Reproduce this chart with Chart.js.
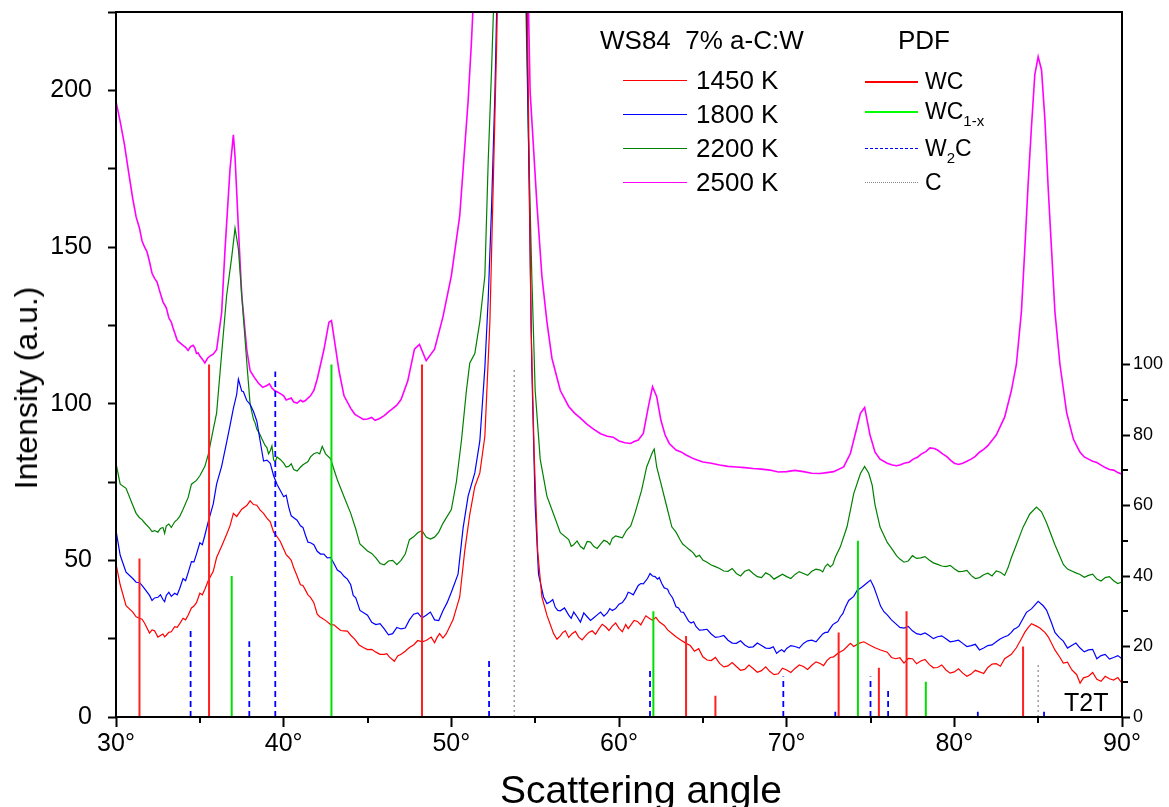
<!DOCTYPE html>
<html><head><meta charset="utf-8">
<script src="https://cdn.jsdelivr.net/npm/chart.js@4/dist/chart.umd.min.js"></script>
<style>
html,body{margin:0;padding:0;background:#fff;}
#wrap{position:relative;width:1169px;height:807px;font-family:"Liberation Sans",Arial,sans-serif;color:#000;overflow:hidden;}
#c{position:absolute;left:0;top:0;}
.t{position:absolute;white-space:pre;line-height:1;}
.ln{position:absolute;height:0;}
sub{font-size:15px;vertical-align:-7px;line-height:0;}
</style></head><body>
<div id="wrap">
<canvas id="c" width="1169" height="807"></canvas>
<div class="t" style="left:600px;top:27px;font-size:26px;">WS84  7% a-C:W</div>
<div class="t" style="left:898px;top:27px;font-size:26px;">PDF</div>

<div class="ln" style="left:623px;top:80px;width:64px;border-top:1.5px solid #ff0000;"></div>
<div class="t" style="left:696px;top:67px;font-size:26px;">1450 K</div>
<div class="ln" style="left:623px;top:114px;width:64px;border-top:1.5px solid #0000ff;"></div>
<div class="t" style="left:696px;top:101px;font-size:26px;">1800 K</div>
<div class="ln" style="left:623px;top:148px;width:64px;border-top:1.5px solid #008000;"></div>
<div class="t" style="left:696px;top:135px;font-size:26px;">2200 K</div>
<div class="ln" style="left:623px;top:182px;width:64px;border-top:1.5px solid #ff00ff;"></div>
<div class="t" style="left:696px;top:169px;font-size:26px;">2500 K</div>

<div class="ln" style="left:865px;top:81px;width:53px;border-top:2px solid #ff0000;"></div>
<div class="t" style="left:925px;top:70px;font-size:23px;">WC</div>
<div class="ln" style="left:865px;top:111px;width:53px;border-top:2px solid #00ff00;"></div>
<div class="t" style="left:925px;top:100px;font-size:23px;">WC<sub>1-x</sub></div>
<div class="ln" style="left:865px;top:148px;width:53px;border-top:1.5px dashed #0000ff;"></div>
<div class="t" style="left:925px;top:137px;font-size:23px;">W<sub>2</sub>C</div>
<div class="ln" style="left:865px;top:182px;width:53px;border-top:1.5px dotted #888;"></div>
<div class="t" style="left:925px;top:171px;font-size:23px;">C</div>

<div class="t" style="left:1064px;top:690px;font-size:25px;">T2T</div>
<div class="t" style="left:500px;top:770px;font-size:39px;">Scattering angle</div>
<div class="t" style="left:26px;top:388px;font-size:32px;transform:translate(-50%,-50%) rotate(-90deg);">Intensity (a.u.)</div>
</div>
<script>
// ---- measured curves: [scattering angle (deg), intensity (a.u.)] ----
const curve1450 = [
[30.0,48.9],[30.25,42.2],[30.6,35.5],[31.0,33.5],[31.4,31.5],[31.7,30.0],[32.0,26.8],[32.3,27.5],[32.5,25.5],[32.8,26.5],
[33.0,26.1],[33.3,27.2],[33.5,28.8],[33.8,29.8],[34.0,31.5],[34.3,32.5],[34.5,34.8],[34.8,36.5],[35.0,39.5],[35.3,40.8],
[35.5,43.5],[35.8,46.5],[36.0,50.9],[36.3,54.5],[36.6,58.3],[36.8,61],[37.0,65],[37.2,64],[37.5,66.3],[37.8,67.5],
[38.0,69],[38.2,67.8],[38.4,67.6],[38.6,66],[38.8,65],[39.0,63.5],[39.2,62.3],[39.4,59],[39.6,57.6],[40.0,53.6],
[40.3,51],[40.6,47.6],[41.0,42.2],[41.3,40.5],[41.6,38.2],[42.0,32.8],[42.3,31.5],[42.8,29.5],[43.2,28.5],[43.6,27.5],
[44.0,26.1],[44.5,23],[45.0,21.5],[45.5,20.7],[46.0,20.0],[46.3,19.2],[46.6,17.8],[46.8,19.5],[47.0,20.0],[47.5,22.2],
[48.0,24.4],[48.5,24.4],[48.8,25.5],[49.0,23.7],[49.3,26.6],[49.7,26.6],[50.1,31],[50.5,38.3],[50.8,53],[51.1,64.7],
[51.4,73.5],[51.7,77.9],[52.0,89.6],[52.3,126.2],[52.5,170],[52.7,214],[52.9,270],[53.3,600],[53.7,800],[54.1,600],
[54.5,240],[54.75,126],[54.95,82.3],[55.15,53],[55.4,38.3],[55.7,32.5],[56.1,26.6],[56.5,25.9],[56.8,27.5],[57.2,26.6],
[57.6,25.5],[58.0,25.9],[58.4,27.5],[58.8,28.1],[59.2,28.8],[59.6,29],[60.0,28.3],[60.4,29.5],[60.7,29.3],[61.1,30.5],
[61.45,30.9],[61.8,31.5],[62.0,30.9],[62.2,31.8],[62.4,30.4],[62.7,29.2],[62.9,27.8],[63.2,26.5],[63.4,25.6],[63.7,24.5],
[64.0,23.5],[64.5,21],[65.0,19.2],[65.5,18],[66.0,17.1],[66.5,16.3],[67.0,16.1],[67.5,15.2],[68.0,15.5],[68.5,14.8],
[69.0,14.5],[69.5,13.8],[70.0,15],[70.5,15.5],[71.0,16.1],[71.5,16.5],[72.0,17.1],[72.4,18],[72.8,19.2],[73.1,20.5],
[73.4,21.4],[73.8,23.5],[74.0,22.5],[74.3,23.5],[74.6,24],[75.0,22.8],[75.3,22],[75.6,21.4],[76.0,20.7],[76.5,18.6],
[77.0,17.2],[77.5,18.6],[78.0,17.9],[78.5,16.8],[79.0,15.8],[79.5,15],[80.0,14.4],[80.5,14],[81.0,13.7],[81.5,14.4],
[82.0,15.8],[82.5,17],[83.0,18.6],[83.4,20],[83.7,22.1],[84.0,25],[84.2,27],[84.4,28.5],[84.6,29.8],[84.9,29],
[85.1,28.4],[85.4,27],[85.6,25.6],[86.0,21.4],[86.3,19],[86.5,17.2],[87.0,15.1],[87.3,13.5],[87.5,10.8],[87.7,12.5],
[88.0,13],[88.5,12],[89.0,13],[89.5,11.8],[90.0,10.8]
];
// finer readings of the 1450 K trace (noise wiggles between the points above)
const curve1450fine = [
[31.2,32.0],[31.55,31.2],[32.15,27.8],[32.65,26.0],[32.9,25.6],[33.15,27.0],[33.65,28.6],[34.15,31.0],[34.65,35.4],[35.15,39.0],
[39.8,56.0],[40.15,51.8],[40.45,50.0],[40.8,45.0],[41.15,42.0],[41.45,39.0],[41.8,36.5],[42.15,32.0],[42.55,30.6],[43.0,29.4],
[43.4,27.6],[43.8,27.4],[44.25,24.8],[44.75,22.2],[45.25,21.6],[45.75,20.0],[46.15,20.2],[47.25,21.0],[47.75,23.0],[48.25,24.0],
[49.15,25.4],[49.5,25.2],[56.3,24.8],[56.65,27.0],[57.0,25.4],[57.4,27.3],[57.8,24.6],[58.2,27.0],[58.6,26.4],[59.0,29.6],
[59.4,27.6],[59.8,30.0],[60.2,27.2],[60.55,28.2],[60.9,30.8],[61.3,29.4],[61.6,32.3],[64.25,22.8],[64.75,21.8],[65.25,18.2],
[65.75,19.0],[66.25,16.0],[66.75,17.4],[67.25,14.9],[67.75,16.6],[68.25,14.3],[68.75,16.0],[69.25,13.5],[69.75,15.6],[70.25,14.2],
[70.75,16.6],[71.25,15.2],[71.75,17.6],[72.2,16.4],[72.6,19.0],[76.25,19.0],[76.75,18.9],[77.25,18.7],[77.75,17.0],[78.25,18.4],
[78.75,15.7],[79.25,16.6],[79.75,14.0],[80.25,15.4],[80.75,13.0],[81.25,14.9],[81.75,13.9],[82.25,16.9],[82.75,16.2],[86.75,17.5],
[88.25,14.2],[88.75,11.4],[89.25,12.2],[89.75,12.6]
];
const curve1800 = [
[30.0,59.6],[30.25,51.6],[30.6,46.2],[31.0,44.2],[31.4,42.9],[31.7,41],[32.0,38.8],[32.3,38],[32.5,38.2],[32.8,37.5],
[33.0,38.8],[33.3,38.5],[33.5,39.5],[33.8,41],[34.0,44.2],[34.3,46],[34.5,49.6],[34.8,52],[35.0,55.6],[35.3,58],
[35.5,62.3],[35.8,68],[36.0,74.3],[36.3,80],[36.6,87.7],[36.8,93],[37.0,98.5],[37.2,103],[37.3,107.8],[37.5,104],
[37.6,103.8],[37.8,101],[38.0,99.8],[38.2,97.5],[38.4,94.4],[38.6,88],[38.8,81.7],[39.0,82],[39.2,81],[39.4,77],
[39.6,74.3],[40.0,70.3],[40.3,67],[40.6,63.6],[41.0,61],[41.3,58],[41.6,55.6],[42.0,52.9],[42.4,52],[42.8,50.9],
[43.2,46.9],[43.6,44.9],[44.0,42.2],[44.3,38],[44.55,34],[45.0,32.5],[45.5,29.5],[46.0,28.1],[46.5,26.6],[47.0,28.1],
[47.5,31],[48.0,33.2],[48.5,32.5],[49.0,31],[49.5,33.9],[50.0,39.8],[50.4,45.6],[50.7,60.3],[51.0,70.5],[51.4,77.9],
[51.7,88.1],[52.0,111.5],[52.2,133.5],[52.4,162.8],[52.6,199.4],[52.8,250],[53.3,600],[53.7,800],[54.1,600],[54.45,240],
[54.8,111.5],[55.0,67.6],[55.2,45.6],[55.5,38.3],[55.9,36.8],[56.2,35],[56.5,33.9],[57.0,32.5],[57.3,33.5],[57.7,30.3],
[58.1,32],[58.5,31.7],[58.9,33.5],[59.3,33.2],[59.6,34],[60.0,36],[60.4,38],[60.7,39.5],[61.0,40.5],[61.3,42.6],
[61.6,43.5],[61.85,45.8],[62.0,45],[62.15,44.8],[62.3,44],[62.55,42.6],[62.8,41],[63.0,39.5],[63.4,35.2],[63.7,33.5],
[64.0,32],[64.3,30],[64.6,28.8],[65.0,27.8],[65.5,26.5],[66.0,25.6],[66.5,24.5],[67.0,23.5],[67.5,23],[68.0,22.4],
[68.5,22.8],[69.0,21.9],[69.4,20.3],[69.7,21.5],[70.0,21.9],[70.5,22.5],[71.0,23.5],[71.5,24.5],[72.0,25.6],[72.3,27],
[72.6,28.3],[72.9,30],[73.2,32],[73.5,35],[73.7,37.2],[74.0,38.5],[74.2,40.4],[74.5,41.5],[74.75,42.6],[75.0,43.7],
[75.2,41.5],[75.4,38.5],[75.6,35.4],[76.0,32.6],[76.5,29.8],[77.0,28.4],[77.5,27.5],[78.0,26.3],[78.5,26],[79.0,25.6],
[79.5,25],[80.0,24.2],[80.5,23.5],[81.0,22.8],[81.5,21.4],[82.0,22.8],[82.5,24],[83.0,25.6],[83.4,27],[83.7,28.4],
[84.0,30.5],[84.3,33.4],[84.6,34.5],[85.0,36.9],[85.3,35.5],[85.5,34.1],[85.8,30],[86.0,27],[86.5,24.2],[87.0,22.8],
[87.5,22],[88.0,21.4],[88.5,18.6],[89.0,20],[89.5,19],[90.0,18.6]
];
const curve1800fine = [
[31.2,43.0],[31.55,42.0],[32.15,37.2],[32.65,39.0],[32.9,36.8],[33.15,39.8],[33.65,39.0],[34.15,43.5],[34.65,49.5],[35.15,55.0],
[40.15,70.8],[40.45,64.2],[40.8,62.8],[41.15,60.5],[41.45,55.8],[41.8,55.0],[42.2,52.0],[42.6,50.8],[43.0,49.0],[43.4,46.2],
[43.8,44.0],[44.15,38.8],[45.25,30.2],[45.75,29.8],[46.25,26.2],[46.75,28.6],[47.25,28.4],[47.75,32.8],[48.25,31.6],[48.75,33.5],
[49.25,30.8],[49.75,36.5],[55.7,36.2],[56.05,37.5],[56.35,34.0],[56.75,34.8],[57.15,31.5],[57.5,32.0],[57.9,33.2],[58.3,30.8],
[58.7,32.6],[59.1,32.2],[59.45,34.6],[59.8,34.6],[60.2,36.5],[60.55,39.8],[60.85,39.0],[61.15,42.0],[61.45,42.5],[61.7,44.2],
[62.4,44.5],[62.7,41.2],[62.9,40.8],[63.2,38.0],[63.55,34.8],[63.85,33.4],[64.15,30.6],[64.45,30.4],[64.8,27.7],[65.25,28.0],
[65.75,25.4],[66.25,26.0],[66.75,23.6],[67.25,24.3],[67.75,22.2],[68.25,23.6],[68.75,22.0],[69.2,22.4],[69.55,21.0],[69.85,20.8],
[70.25,22.8],[70.75,22.0],[71.25,24.3],[71.75,24.0],[72.15,26.5],[72.45,27.0],[72.75,29.5],[73.05,30.5],[73.35,33.0],[75.8,33.6],
[76.25,31.0],[76.75,28.6],[77.25,28.9],[77.75,26.6],[78.25,26.8],[78.75,25.0],[79.25,25.9],[79.75,24.0],[80.25,24.5],[80.75,22.5],
[81.25,23.2],[81.75,22.0],[82.25,23.0],[82.75,25.0],[83.2,26.0],[83.55,28.0],[83.85,29.0],[86.25,25.4],[86.75,22.0],[87.25,23.6],
[87.75,20.8],[88.25,21.6],[88.75,19.6],[89.25,18.5],[89.75,19.6]
];
const curve2200 = [
[30.0,81],[30.25,74.3],[30.6,73],[31.0,67.6],[31.4,63.6],[31.7,62],[32.0,60.3],[32.3,59.5],[32.5,59],[32.8,60.5],
[33.0,61],[33.3,60.5],[33.5,62.3],[33.8,64],[34.0,66.3],[34.3,70],[34.5,74.3],[34.8,75.5],[35.0,77],[35.3,80],
[35.5,83.7],[35.8,91.8],[36.0,97],[36.3,115.9],[36.6,134.6],[36.9,146.7],[37.1,156],[37.3,149.4],[37.5,134.6],[37.8,113.2],
[38.0,99.8],[38.2,95],[38.4,91.8],[38.6,90],[38.8,87.7],[39.0,86],[39.2,85],[39.4,82],[39.6,83],[40.0,81],
[40.3,80],[40.6,79],[41.0,79.7],[41.3,81],[41.6,83],[42.0,84.4],[42.3,86.4],[42.5,84],[42.8,82.4],[43.0,79],
[43.2,75.7],[43.6,70.3],[44.0,65],[44.3,60],[44.55,55.2],[45.0,53],[45.5,50.8],[46.0,48.6],[46.5,50],[47.0,50],
[47.5,56.6],[48.0,58.8],[48.5,57.4],[49.0,57.4],[49.5,61.8],[50.0,66.2],[50.3,75],[50.6,88.1],[50.9,104.2],[51.1,113],
[51.4,116],[51.7,126.2],[52.0,140.8],[52.2,177.5],[52.4,206.7],[52.6,240],[53.0,500],[53.6,800],[54.0,600],[54.4,240],
[54.6,184.8],[54.8,140.8],[55.0,104.2],[55.3,82.3],[55.7,70.5],[56.1,64.7],[56.5,58.8],[57.0,56.6],[57.3,55],[57.7,54.4],
[58.1,56],[58.5,54.4],[58.9,55.2],[59.3,55.9],[59.6,57],[60.0,57.5],[60.45,59.6],[60.95,65],[61.35,72.4],[61.65,79.8],
[62.0,84.6],[62.1,85.5],[62.25,79.8],[62.55,73.5],[62.85,67.1],[63.15,60.7],[63.4,59],[63.65,56.5],[64.0,54.3],[64.3,53],
[64.6,51.1],[65.0,50.1],[65.5,48.5],[66.0,47.4],[66.5,46.5],[67.0,45.8],[67.5,46.5],[68.0,45.8],[68.5,44.5],[69.0,45.3],
[69.5,44.8],[70.0,44.8],[70.5,45.5],[71.0,45.8],[71.5,46.5],[72.0,46.9],[72.3,48],[72.6,47.9],[72.9,51],[73.2,54.3],
[73.6,60.7],[74.0,71.3],[74.4,77.7],[74.65,80],[74.9,77.7],[75.1,74],[75.27,67.7],[75.57,60.6],[76.0,55.7],[76.3,53.5],
[76.55,51.5],[77.0,49.4],[77.5,51.5],[78.0,50.8],[78.5,50.1],[79.0,48.7],[79.5,48],[80.0,47.3],[80.5,46.5],[81.0,45.2],
[81.5,44.5],[82.0,45.9],[82.5,46.6],[83.0,45.2],[83.4,50.8],[83.7,55],[84.1,60.6],[84.5,64.8],[84.9,67],[85.2,65.5],
[85.5,62],[86.0,55],[86.5,48.7],[87.0,46.6],[87.5,45.5],[88.0,45.2],[88.5,44],[89.0,44.5],[89.5,43.5],[90.0,43.1]
];
const curve2200fine = [
[31.2,65.0],[31.55,63.0],[32.15,59.2],[32.65,60.2],[32.9,58.6],[33.15,61.6],[33.65,63.0],[38.3,93.8],[38.5,91.0],[38.7,88.8],
[38.9,86.6],[39.1,84.0],[39.3,86.5],[39.5,81.5],[39.8,82.2],[40.15,79.8],[40.45,80.8],[40.8,78.5],[41.15,80.5],[41.45,81.5],
[41.8,84.0],[42.15,84.0],[45.25,52.2],[45.75,49.0],[46.25,49.8],[46.75,48.6],[47.25,52.0],[47.75,57.5],[48.25,59.5],[48.75,56.8],
[49.25,59.0],[57.15,54.5],[57.5,56.2],[57.9,53.6],[58.3,55.8],[58.7,53.8],[59.1,56.4],[59.45,55.0],[59.8,57.8],[60.2,57.2],
[60.7,61.0],[63.8,55.2],[64.15,53.6],[64.45,52.2],[64.8,51.6],[65.25,49.4],[65.75,48.0],[66.25,46.6],[66.75,47.4],[67.25,45.0],
[67.75,47.0],[68.25,44.8],[68.75,46.0],[69.25,44.0],[69.75,45.6],[70.25,44.2],[70.75,46.4],[71.25,45.2],[71.75,47.2],[72.15,46.3],
[72.45,48.8],[72.75,48.6],[76.75,50.4],[77.25,49.8],[77.75,50.6],[78.25,51.2],[78.75,49.2],[79.25,48.2],[79.75,48.4],[80.25,46.4],
[80.75,46.8],[81.25,44.2],[81.75,45.4],[82.25,45.0],[82.75,46.2],[83.2,47.6],[86.75,47.2],[87.25,46.0],[87.75,44.6],[88.25,45.6],
[88.75,43.4],[89.25,44.8],[89.75,42.6]
];
const curve2500 = [
[30.0,196.5],[30.25,190],[30.5,182.8],[30.75,174],[31.0,165.4],[31.4,156],[31.7,150],[32.0,145.3],[32.3,140],[32.6,136],
[33.0,130.6],[33.3,126],[33.5,122.6],[33.8,119.5],[34.0,118.6],[34.3,117],[34.6,118.6],[34.8,116],[35.0,115.2],[35.3,113],
[35.6,115.2],[36.0,117.2],[36.3,129],[36.5,149],[36.8,174.8],[37.0,185.8],[37.1,178.8],[37.3,156],[37.5,134.6],[37.8,117.2],
[38.0,110.5],[38.5,106.5],[39.0,105.8],[39.3,105],[39.6,103.8],[40.0,102.5],[40.3,101.5],[40.6,100.5],[41.0,101.1],[41.3,101],
[41.6,102.5],[42.0,107.8],[42.4,117.2],[42.7,126],[42.85,126.5],[43.0,121.2],[43.3,110.5],[43.6,102.5],[44.0,98.5],[44.5,95.8],
[45.0,95.1],[45.45,94.7],[46.0,96.2],[46.5,98.4],[47.0,101.3],[47.4,107.2],[47.8,117.4],[48.1,118.9],[48.5,113.7],[49.0,117.4],
[49.5,127.7],[50.0,140.8],[50.5,159.9],[51.0,196.5],[51.2,215.5],[51.5,250],[52.5,600],[53.6,900],[54.3,500],[54.55,240],
[54.7,199.5],[55.1,164],[55.4,140.8],[55.7,126.2],[56.0,114.5],[56.5,104.2],[57.0,99.1],[57.7,95.4],[58.5,91.8],[59.3,89.6],
[60.0,88.1],[60.7,87.3],[61.15,88.4],[61.45,90.5],[61.75,99],[62.0,105.4],[62.25,102.2],[62.5,94.7],[62.75,90],[63.0,87.3],
[63.4,85.2],[64.0,83.6],[65.0,81.4],[66.0,80.4],[67.0,79.8],[68.0,79.3],[69.0,78.8],[70.0,78.3],[71.0,78.3],[72.0,77.7],
[72.8,78.3],[73.4,79.8],[73.8,84.1],[74.1,90.5],[74.4,96.9],[74.65,98.8],[74.97,90],[75.27,84.5],[75.57,82.3],[76.0,81],
[76.55,80.2],[77.0,81],[77.55,82.3],[78.0,83.8],[78.55,85.9],[79.0,85.2],[79.55,83.1],[80.0,81],[80.5,81],[81.0,82.3],
[81.5,84.5],[82.0,86.6],[82.5,90],[83.0,95.7],[83.4,104.1],[83.7,112.5],[84.0,129.3],[84.2,149],[84.4,170],[84.6,188.3],
[84.8,205],[85.0,210.7],[85.2,206.5],[85.4,190.9],[85.6,168.6],[85.8,149],[86.0,129.3],[86.3,112.5],[86.7,97.1],[87.1,88.7],
[87.5,84.5],[88.0,82.3],[89.0,79.6],[90.0,77.5]
];
const curve2500fine = [
[31.2,159.6],[31.55,152.0],[31.85,148.5],[32.15,141.6],[32.45,138.8],[32.8,132.5],[33.15,127.4],[33.4,124.2],[33.65,120.2],[34.15,118.0],
[34.45,118.2],[34.7,117.8],[34.9,116.2],[35.15,114.2],[35.45,114.4],[35.8,115.8],[38.25,108.4],[38.75,105.2],[39.15,106.3],[39.45,104.2],
[39.8,103.2],[40.15,101.2],[40.45,101.8],[40.8,100.2],[41.15,100.6],[41.45,101.8],[41.8,104.2],[44.25,96.6],[44.75,95.0],[45.25,95.6],
[45.7,95.2],[46.25,97.4],[46.75,99.5],[57.35,97.0],[58.1,93.4],[58.9,90.4],[59.65,89.3],[60.35,87.5],[60.9,87.9],[63.7,84.6],
[64.5,82.3],[65.5,81.0],[66.5,80.0],[67.5,79.6],[68.5,79.1],[69.5,78.2],[70.5,78.7],[71.5,77.8],[72.4,78.0],[76.3,80.4],
[76.8,80.5],[77.3,81.3],[77.8,82.9],[78.3,84.7],[78.8,85.7],[79.3,84.0],[79.8,81.8],[80.25,80.6],[80.75,81.6],[81.25,83.2],
[81.75,85.4],[87.3,86.5],[87.75,83.0],[88.25,81.6],[88.5,81.2],[88.75,80.4],[89.25,79.0],[89.5,78.8],[89.75,78.0]
];

// ---- PDF reference lines: position (deg) and relative intensity (right axis) ----
const wcPos   = [31.4, 35.55, 48.25, 64.0, 65.75, 73.1, 75.5, 77.15, 84.1];
const wcInt   = [45, 100, 100, 23, 6, 24, 14, 30, 20];
const wc1xPos = [36.9, 42.85, 62.05, 74.25, 78.3];
const wc1xInt = [40, 100, 30, 50, 10];
const w2cPos  = [34.45, 37.95, 39.5, 52.25, 61.85, 69.8, 72.9, 75.0, 76.05, 81.4, 85.35];
const w2cInt  = [25, 21.5, 98, 16.7, 14, 11.5, 1.5, 11.5, 8, 1.5, 1.5];
const cPos    = [53.75, 85.0];
const cInt    = [99, 14.8];

// ---- axis ticks ----
const xMajor = [30, 40, 50, 60, 70, 80, 90];
const xMinor = [35, 45, 55, 65, 75, 85];
const yLeftLabels = [0, 50, 100, 150, 200];
const yRightMajor = [0, 20, 40, 60, 80, 100];
const yRightMinor = [10, 30, 50, 70, 90];

function toXY(a, b){ return a.concat(b).sort((p,q) => p[0]-q[0]).map(p => ({x:p[0], y:p[1]})); }
function sticks(pos, val){
  const out = [];
  pos.forEach((p,i) => { out.push({x:p,y:0},{x:p,y:val[i]},{x:p,y:null}); });
  return out;
}
const FONT = "'Liberation Sans', Arial, sans-serif";
function noPad(s){ s.paddingTop = 0; s.paddingBottom = 0; s.paddingLeft = 0; s.paddingRight = 0; }

const extras = {
  id:'extras',
  afterDraw(chart){
    const ctx = chart.ctx, a = chart.chartArea;
    ctx.save();
    ctx.strokeStyle = '#000';
    ctx.lineWidth = 2;
    ctx.strokeRect(a.left, a.top, a.right - a.left, a.bottom - a.top);
    ctx.beginPath();
    const xs = chart.scales.x, y2 = chart.scales.y2;
    xMinor.forEach(v => { const p = Math.round(xs.getPixelForValue(v)); ctx.moveTo(p, a.bottom); ctx.lineTo(p, a.bottom + 6); });
    yRightMinor.forEach(v => { const p = Math.round(y2.getPixelForValue(v)); ctx.moveTo(a.right, p); ctx.lineTo(a.right + 6, p); });
    ctx.stroke();
    ctx.restore();
  }
};

const stickBase = {type:'line', yAxisID:'y2', pointRadius:0, borderWidth:2, spanGaps:false, order:0, tension:0};
const curveBase = {type:'line', yAxisID:'y', pointRadius:0, borderWidth:1.2, order:1, tension:0};

new Chart(document.getElementById('c'), {
  type:'line',
  data:{
    datasets:[
      Object.assign({label:'WC', data:sticks(wcPos, wcInt), borderColor:'#ff2020'}, stickBase),
      Object.assign({label:'WC1-x', data:sticks(wc1xPos, wc1xInt), borderColor:'#00e000'}, stickBase),
      Object.assign({label:'W2C', data:sticks(w2cPos, w2cInt), borderColor:'#0000ff', borderDash:[6,4]}, stickBase, {borderWidth:1.8}),
      Object.assign({label:'C', data:sticks(cPos, cInt), borderColor:'#888888', borderDash:[2,3]}, stickBase, {borderWidth:1.2}),
      Object.assign({label:'1450 K', data:toXY(curve1450, curve1450fine), borderColor:'#ff0000'}, curveBase),
      Object.assign({label:'1800 K', data:toXY(curve1800, curve1800fine), borderColor:'#0000ff'}, curveBase),
      Object.assign({label:'2200 K', data:toXY(curve2200, curve2200fine), borderColor:'#008000'}, curveBase),
      Object.assign({label:'2500 K', data:toXY(curve2500, curve2500fine), borderColor:'#ff00ff'}, curveBase, {borderWidth:1.6})
    ]
  },
  options:{
    responsive:false,
    animation:false,
    devicePixelRatio:1,
    layout:{padding:{top:12,left:0,right:0,bottom:0}},
    plugins:{legend:{display:false}, tooltip:{enabled:false}},
    scales:{
      x:{
        type:'linear', min:30, max:90, position:'bottom',
        border:{display:false},
        grid:{display:true, drawOnChartArea:false, drawTicks:true, tickLength:10, tickWidth:2, tickColor:'#000'},
        afterBuildTicks: s => { s.ticks = xMajor.map(v => ({value:v})); },
        ticks:{color:'#000', font:{family:FONT, size:25}, padding:2, maxRotation:0, autoSkip:false, callback: v => v + '°'},
        afterFit: s => { s.height = 90; noPad(s); }
      },
      y:{
        type:'linear', min:0, max:225, position:'left',
        border:{display:false},
        grid:{display:true, drawOnChartArea:false, drawTicks:true, tickLength:8, tickWidth:2, tickColor:'#000'},
        ticks:{stepSize:25, color:'#000', font:{family:FONT, size:25}, padding:16,
               callback: v => yLeftLabels.includes(v) ? String(v) : ''},
        afterFit: s => { s.width = 116; noPad(s); }
      },
      y2:{
        type:'linear', min:0, max:200, position:'right',
        border:{display:false},
        grid:{display:true, drawOnChartArea:false, drawTicks:true, tickLength:8, tickWidth:2, tickColor:'#000'},
        afterBuildTicks: s => { s.ticks = yRightMajor.map(v => ({value:v})); },
        ticks:{color:'#000', font:{family:FONT, size:18}, padding:3, autoSkip:false},
        afterFit: s => { s.width = 47; noPad(s); }
      }
    }
  },
  plugins:[extras]
});
</script>
</body></html>
